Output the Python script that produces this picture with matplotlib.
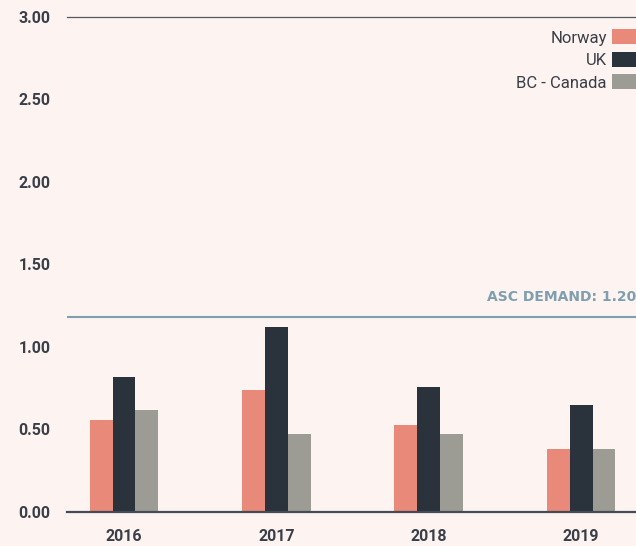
import matplotlib.pyplot as plt
import numpy as np
from matplotlib.patches import Patch

# data
years = ["2016", "2017", "2018", "2019"]
norway = [0.56, 0.74, 0.53, 0.38]
uk = [0.82, 1.12, 0.76, 0.65]
bc_canada = [0.62, 0.47, 0.47, 0.38]
series_names = ["Norway", "UK", "BC - Canada"]
asc_demand = 1.20
y_ticks = [0.0, 0.5, 1.0, 1.5, 2.0, 2.5, 3.0]

BG = "#fdf3f0"
COLORS = ["#e8897a", "#2a323c", "#9c9c94"]
TEXT = "#3a3f47"
ASC = "#7f9fae"

fig = plt.figure(figsize=(6.36, 5.46), dpi=100, facecolor=BG)
ax = fig.add_axes([0.1053, 0.0623, 0.8947, 0.9066])
ax.set_facecolor(BG)

x = np.arange(len(years))
w = 0.15
for i, (vals, c) in enumerate(zip([norway, uk, bc_canada], COLORS)):
    ax.bar(x + (i - 1) * w, vals, width=w, color=c, zorder=2)

ax.set_xlim(-0.374, 3.36)
ax.set_ylim(0, 3.0)

ax.axhline(asc_demand - 0.02, color=ASC, lw=1.5, zorder=1)
ax.annotate("ASC DEMAND: 1.20", xy=(1.0, asc_demand), xycoords=("axes fraction", "data"),
            xytext=(0, 7), textcoords="offset points", ha="right", va="bottom",
            color=ASC, fontsize=10, fontweight="bold", family="DejaVu Sans")

for s in ["left", "right"]:
    ax.spines[s].set_visible(False)
ax.spines["top"].set_color("#555a60")
ax.spines["top"].set_linewidth(0.9)
ax.spines["bottom"].set_color("#454b55")
ax.spines["bottom"].set_linewidth(1.6)

ax.set_yticks(y_ticks)
ax.set_yticklabels([f"{v:.2f}" for v in y_ticks])
ax.set_xticks(x)
ax.set_xticklabels(years)
ax.tick_params(axis="y", length=0, pad=12, labelsize=11.5, labelcolor=TEXT)
ax.tick_params(axis="x", length=0, pad=12, labelsize=11.5, labelcolor=TEXT)
for lab in ax.get_xticklabels() + ax.get_yticklabels():
    lab.set_family("Roboto")
    lab.set_fontweight("bold")

handles = [Patch(facecolor=c) for c in COLORS]
leg = ax.legend(handles, series_names, loc="upper right", bbox_to_anchor=(1.0, 0.975),
                frameon=False, markerfirst=False, handlelength=1.45,
                handleheight=1.0, handletextpad=0.3, labelspacing=0.38, borderaxespad=0,
                borderpad=0, prop={"family": "Roboto", "size": 12})
for t in leg.get_texts():
    t.set_color(TEXT)

fig.savefig("out.png", dpi=100, facecolor=BG)
